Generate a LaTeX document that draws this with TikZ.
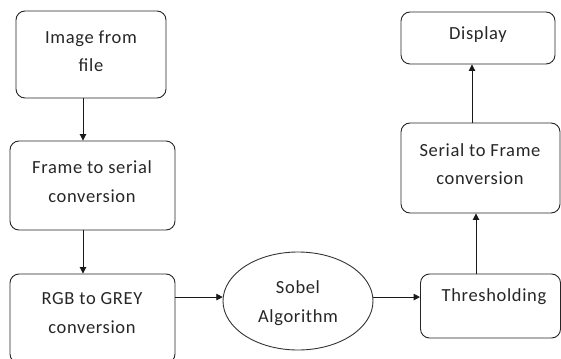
\documentclass[tikz,border=0pt]{standalone}
\usepackage{fontspec}
\setmainfont[LetterSpace=3.5]{Carlito}
\usetikzlibrary{shapes.geometric,arrows.meta}
\tikzset{
  box/.style={draw=black!85, line width=0.9pt, rounded corners=9pt, inner sep=0pt},
  oval/.style={draw=black!80, line width=0.9pt, ellipse, inner sep=0pt},
  txt/.style={align=center, font=\fontsize{18.5}{28.5}\selectfont, inner sep=0pt, text=black!85},
  arr/.style={draw=black!90, line width=0.9pt, -{Triangle[length=6.5pt,width=6.5pt]}}
}
\begin{document}
\begin{tikzpicture}[x=1pt,y=-1pt]
\useasboundingbox (0,0) rectangle (561,358);
\clip (0,0) rectangle (561,358);
% boxes
\node[box, minimum width=150pt, minimum height=87pt] (b1) at (91,54.5) {};
\node[box, minimum width=165pt, minimum height=89pt] (b2) at (92.5,185.5) {};
\node[box, minimum width=165pt, minimum height=89pt] (b3) at (92.5,318.5) {};
\node[oval, minimum width=150pt, minimum height=98pt] (sobel) at (298,301) {};
\node[box, minimum width=140pt, minimum height=64pt] (thr) at (490.5,306) {};
\node[box, minimum width=159pt, minimum height=90pt] (b4) at (480.5,168) {};
\node[box, minimum width=154pt, minimum height=52pt] (b5) at (478,38) {};
% texts
\node[txt] (t1) at (91,51) {Image from\\file};
\node[txt] (t2) at (92,181.5) {Frame to serial\\conversion};
\node[txt] (t3) at (92,313) {RGB to GREY\\conversion};
\node[txt] (t4) at (298,303) {Sobel\\Algorithm};
\node[txt] (t5) at (494,297) {Thresholding};
\node[txt] (t6) at (480,164) {Serial to Frame\\conversion};
\node[txt] (t7) at (478,35) {Display};
% connectors
\coordinate (xl) at (83,0);
\coordinate (xr1) at (476,0);
\coordinate (xr2) at (472,0);
\draw[arr] (b1.south -| xl) -- (b2.north -| xl);
\draw[arr] (b2.south -| xl) -- (b3.north -| xl);
\draw[arr] (b3.east |- sobel.177) -- (sobel.177);
\draw[arr] (sobel.3) -- (thr.west |- sobel.3);
\draw[arr] (thr.north -| xr1) -- (b4.south -| xr1);
\draw[arr] (b4.north -| xr2) -- (b5.south -| xr2);
\end{tikzpicture}
\end{document}
